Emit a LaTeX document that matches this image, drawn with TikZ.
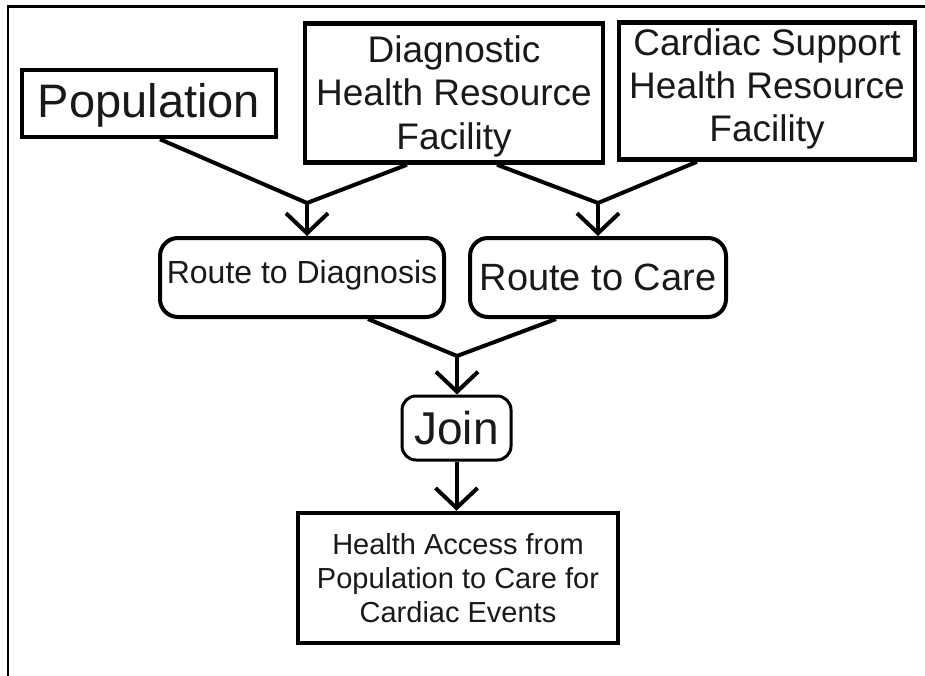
\documentclass[tikz,border=0pt]{standalone}
\usepackage{fontspec}
\setmainfont{Liberation Sans}
\usetikzlibrary{arrows.meta}
\tikzset{
  box/.style={draw=black, line width=4.5pt, inner sep=0pt, align=center, text=black!90},
  rbox/.style={box, line width=4pt, rounded corners=18pt},
  conn/.style={line width=4pt, line join=miter},
  arr/.style={conn, -{Straight Barb[length=20pt,width=42pt,line width=4pt]}},
  frame/.style={line width=2.5pt}
}
\newcommand{\shiftedtext}[2]{\raisebox{#1}[\height][\depth]{#2}}
\begin{document}
\begin{tikzpicture}[x=1pt,y=-1pt]
\useasboundingbox (0,0) rectangle (925,676);
% outer frame (top and left only)
\coordinate (fTL) at (8,6.5);
\coordinate (fTR) at (925,6.5);
\coordinate (fBL) at (8,676);
\draw[frame] (fTR) -- (fTL) -- (fBL);

\node[box, minimum width=254pt, minimum height=67pt, font=\fontsize{47}{56}\selectfont] (pop) at (149,103.5) {\shiftedtext{-2pt}{Population}};
\node[box, minimum width=298pt, minimum height=139pt, font=\fontsize{37}{43.5}\selectfont] (diag) at (454,93) {\shiftedtext{-4pt}{\begin{tabular}{@{}c@{}}Diagnostic\\Health Resource\\Facility\end{tabular}}};
\node[box, minimum width=296pt, minimum height=137pt, font=\fontsize{37}{43}\selectfont] (card) at (767,91) {\shiftedtext{1.5pt}{\begin{tabular}{@{}c@{}}Cardiac Support\\Health Resource\\Facility\end{tabular}}};

\node[rbox, minimum width=284pt, minimum height=79pt, font=\fontsize{32}{38}\selectfont] (rd) at (302,277.5) {\shiftedtext{2pt}{Route to Diagnosis}};
\node[rbox, minimum width=256pt, minimum height=79pt, font=\fontsize{38}{44}\selectfont] (rc) at (598,277.5) {Route to Care};

\node[rbox, line width=3pt, rounded corners=14pt, minimum width=109pt, minimum height=64pt, font=\fontsize{46}{52}\selectfont] (join) at (456.5,428) {Join};

\node[box, minimum width=320pt, minimum height=130pt, font=\fontsize{29}{34}\selectfont] (fin) at (458,578) {Health Access from\\Population to Care for\\Cardiac Events};

\coordinate (v1) at (307,203);
\coordinate (v2) at (598,203);
\coordinate (v3) at (457,356);

\draw[conn] ([xshift=11pt]pop.south) -- (v1) -- ([xshift=-47pt]diag.south);
\draw[conn] ([xshift=43pt]diag.south) -- (v2) -- ([xshift=-70pt]card.south);
\draw[arr] (v1) -- (v1 |- rd.north);
\draw[arr] (v2) -- (v2 |- rc.north);
\draw[conn] ([xshift=66pt]rd.south) -- (v3) -- ([xshift=-42pt]rc.south);
\draw[arr] (v3) -- (v3 |- join.north);
\draw[arr] (join.south) -- (join.south |- fin.north);
\end{tikzpicture}
\end{document}
